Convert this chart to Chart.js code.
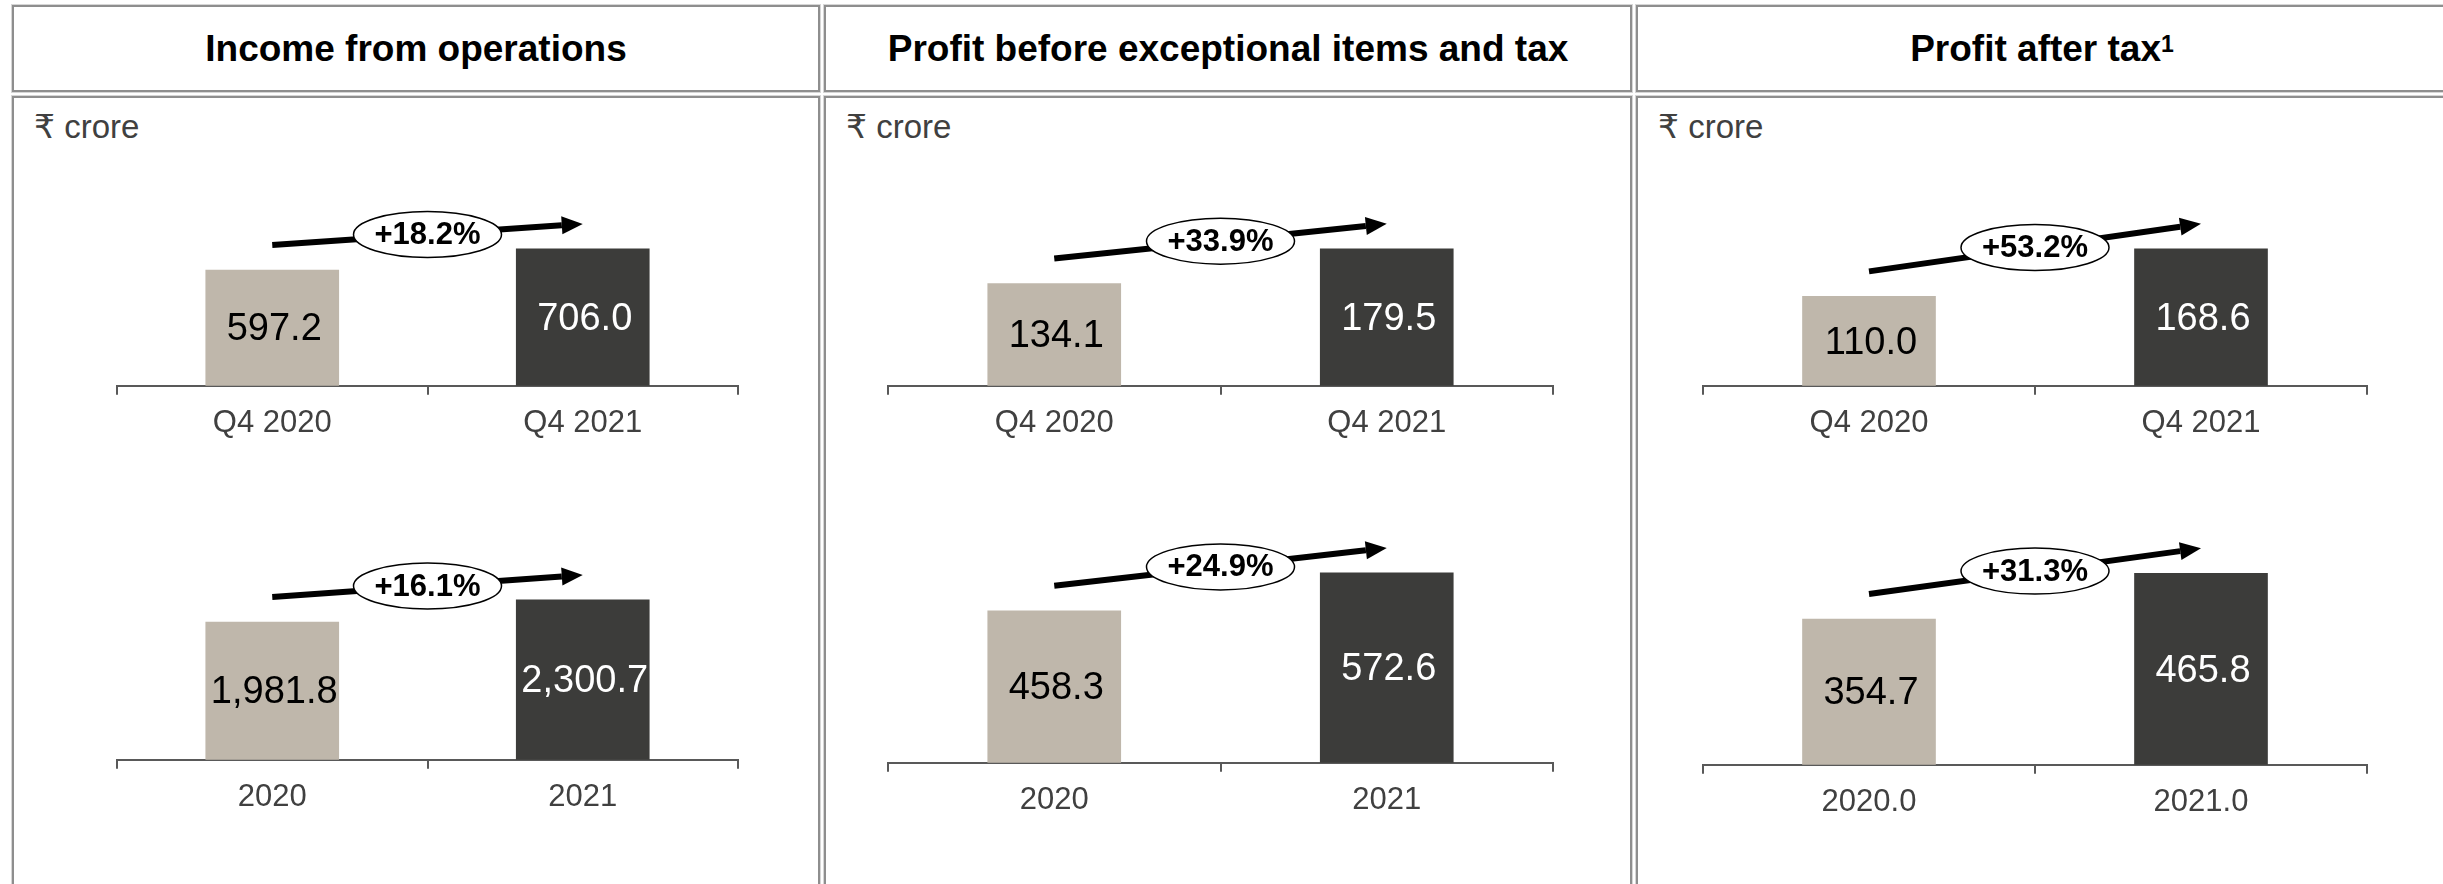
<!DOCTYPE html>
<html>
<head>
<meta charset="utf-8">
<script src="https://cdn.jsdelivr.net/npm/chart.js@4/dist/chart.umd.min.js"></script>
<style>
  html, body { margin: 0; padding: 0; background: #fff; }
  body { width: 2443px; height: 884px; overflow: hidden; position: relative;
         font-family: "Liberation Sans", Arial, "DejaVu Sans", sans-serif; }
  .box { position: absolute; border: 2px solid #8e8e8e; box-shadow: 0 0 0 1px #d6d6d6; box-sizing: border-box; }
  .title { top: 5px; height: 87px; display: flex; align-items: center; justify-content: center;
           font-weight: bold; font-size: 37px; color: #000; }
  .title sup { font-size: 23px; position: relative; top: -4px; }
  .body { top: 96px; height: 820px; }
  .unit { position: absolute; top: 107px; font-size: 33px; color: #404040; }
  canvas { position: absolute; }
</style>
</head>
<body>
<div id="page"></div>
<script>
// panel titles
const panelTitles = ['Income from operations', 'Profit before exceptional items and tax', 'Profit after tax<sup>1</sup>'];
const unitLabel = '₹ crore';

// quarter charts (top row)
const quarterLabels = ['Q4 2020', 'Q4 2021'];
const quarterValues = [[597.2, 706.0], [134.1, 179.5], [110.0, 168.6]];
const quarterGrowth = ['+18.2%', '+33.9%', '+53.2%'];

// full year charts (bottom row)
const yearLabels = [['2020', '2021'], ['2020', '2021'], ['2020.0', '2021.0']];
const yearValues = [[1981.8, 2300.7], [458.3, 572.6], [354.7, 465.8]];
const yearGrowth = ['+16.1%', '+24.9%', '+31.3%'];

const COLORS = ['#bfb7ab', '#3c3c3a'];
const FONT = '"Liberation Sans", Arial, sans-serif';
const AXIS_H = 66; // room taken by the x axis under the plot

// layout of the three panels
const panels = [
  { left: 12, width: 808, axisLeft: 117, axisWidth: 621, topMax: 1216, botAxis: 760, botMax: 4170 },
  { left: 824, width: 808, axisLeft: 888, axisWidth: 665, topMax: 309, botAxis: 763, botMax: 883 },
  { left: 1636, width: 812, axisLeft: 1703, axisWidth: 664, topMax: 290, botAxis: 765, botMax: 717 },
];

const page = document.getElementById('page');

function fmt(v) {
  return v.toLocaleString('en-US', { minimumFractionDigits: 1, maximumFractionDigits: 1 });
}

const growthPlugin = {
  id: 'growth',
  afterDatasetsDraw(chart, args, opts) {
    const ctx = chart.ctx;
    const bars = chart.getDatasetMeta(0).data;
    const values = chart.data.datasets[0].data;
    ctx.save();
    // value labels in the middle of each bar
    ctx.font = '38px ' + FONT;
    ctx.textAlign = 'center';
    ctx.textBaseline = 'middle';
    bars.forEach((b, i) => {
      ctx.fillStyle = i === 0 ? '#000' : '#fff';
      ctx.fillText(fmt(values[i]), b.x + 2, (b.y + b.base) / 2 + 2);
    });

    // growth arrow
    const x0 = bars[0].x, y0 = bars[0].y - 25;
    const x1 = bars[1].x, y1 = bars[1].y - 25;
    const ang = Math.atan2(y1 - y0, x1 - x0);
    const head = 21, hw = 9;
    const bx = x1 - head * Math.cos(ang), by = y1 - head * Math.sin(ang);
    ctx.strokeStyle = '#000';
    ctx.fillStyle = '#000';
    ctx.lineWidth = 6;
    ctx.beginPath();
    ctx.moveTo(x0, y0);
    ctx.lineTo(bx, by);
    ctx.stroke();
    ctx.beginPath();
    ctx.moveTo(x1, y1);
    ctx.lineTo(bx + hw * Math.sin(ang), by - hw * Math.cos(ang));
    ctx.lineTo(bx - hw * Math.sin(ang), by + hw * Math.cos(ang));
    ctx.closePath();
    ctx.fill();

    // ellipse with percentage
    const cx = (x0 + x1) / 2, cy = (y0 + y1) / 2;
    ctx.beginPath();
    ctx.ellipse(cx, cy, 74, 23, 0, 0, Math.PI * 2);
    ctx.fillStyle = '#fff';
    ctx.fill();
    ctx.lineWidth = 1.5;
    ctx.strokeStyle = '#000';
    ctx.stroke();
    ctx.fillStyle = '#000';
    ctx.font = 'bold 31px ' + FONT;
    ctx.fillText(opts.text, cx, cy + 1);
    ctx.restore();
  }
};

function barChart(p, top, axisY, labels, values, max, growth) {
  const height = axisY - top + AXIS_H;
  const canvas = document.createElement('canvas');
  canvas.width = p.axisWidth + 8;
  canvas.height = height;
  canvas.style.left = (p.axisLeft - 4) + 'px';
  canvas.style.top = top + 'px';
  canvas.style.width = canvas.width + 'px';
  canvas.style.height = height + 'px';
  page.appendChild(canvas);

  return new Chart(canvas, {
    type: 'bar',
    data: {
      labels,
      datasets: [{ data: values, backgroundColor: COLORS, barThickness: 133 }]
    },
    options: {
      responsive: false,
      animation: false,
      devicePixelRatio: 1,
      layout: { padding: { left: 4, right: 4, top: 0, bottom: 0 } },
      plugins: { legend: { display: false }, tooltip: { enabled: false }, growth: { text: growth } },
      scales: {
        x: {
          offset: true,
          grid: { display: true, offset: true, drawOnChartArea: false, drawTicks: true, tickLength: 9, color: '#595959', lineWidth: 2 },
          border: { display: true, color: '#595959', width: 2 },
          ticks: { color: '#404040', font: { family: FONT, size: 31 }, padding: 10 }
        },
        y: { display: false, min: 0, max }
      }
    },
    plugins: [growthPlugin]
  });
}

panels.forEach((p, i) => {
  const t = document.createElement('div');
  t.className = 'box title';
  t.style.left = p.left + 'px';
  t.style.width = p.width + 'px';
  t.innerHTML = panelTitles[i];
  page.appendChild(t);

  const b = document.createElement('div');
  b.className = 'box body';
  b.style.left = p.left + 'px';
  b.style.width = p.width + 'px';
  page.appendChild(b);

  const u = document.createElement('div');
  u.className = 'unit';
  u.style.left = (p.left + 22) + 'px';
  u.textContent = unitLabel;
  page.appendChild(u);

  barChart(p, 150, 386, quarterLabels, quarterValues[i], p.topMax, quarterGrowth[i]);
  barChart(p, 470, p.botAxis, yearLabels[i], yearValues[i], p.botMax, yearGrowth[i]);
});
</script>
</body>
</html>
